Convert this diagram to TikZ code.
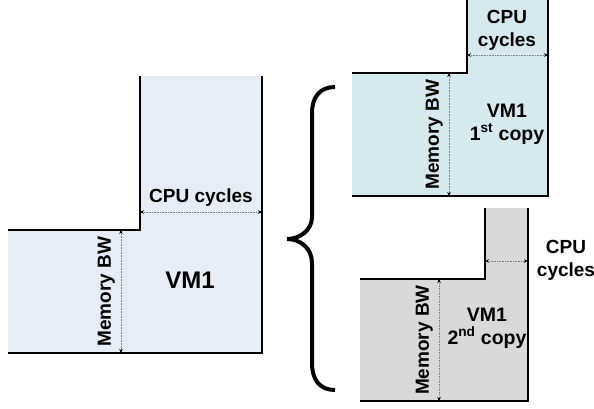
\documentclass[tikz,border=0pt]{standalone}
\usepackage{fontspec}
\setmainfont{Liberation Sans}
\usetikzlibrary{arrows.meta}
\definecolor{vmblue}{HTML}{E7EDF7}
\definecolor{vmcyan}{HTML}{D6E9EF}
\definecolor{vmgray}{HTML}{D9D9D9}
\tikzset{
	wall/.style={line width=2.6pt},
	dimline/.style={densely dotted,gray,line width=0.6pt,{Stealth[color=black,length=4pt,width=3.5pt]}-{Stealth[color=black,length=4pt,width=3.5pt]}},
	lbl/.style={font=\fontsize{19}{23}\selectfont\bfseries,text=black,inner sep=0pt,align=center},
	vmlbl/.style={font=\fontsize{24}{27}\selectfont\bfseries,text=black,inner sep=0pt,align=center},
	copylbl/.style={font=\fontsize{19.5}{23}\selectfont\bfseries,text=black,inner sep=0pt,align=center}
}
\begin{document}
\begin{tikzpicture}[x=1pt,y=-1pt]
	\useasboundingbox (0,0) rectangle (594,408);
	% original VM
	\fill[vmblue] (8,230) -- (140,230) -- (140,76) -- (262,76) -- (262,353) -- (8,353) -- cycle;
	\draw[wall] (140,76) -- (140,230) -- (8,230);
	\draw[wall] (262,76) -- (262,353) -- (8,353);
	\coordinate (cpuA) at (140,212);
	\coordinate (cpuB) at (262,212);
	\coordinate (memA) at (121,230);
	\coordinate (memB) at (121,353);
	\draw[dimline] (cpuA) -- node[lbl,above=5pt] {CPU cycles} (cpuB);
	\draw[dimline] (memA) -- node[lbl,rotate=90,above=6pt] {Memory BW} (memB);
	\node[vmlbl] (vm) at (190,280) {VM1};
	% brace
	\draw[line width=4pt] (335,87) .. controls (320,87) and (312,97) .. (312,113) -- (312,217)
		.. controls (312,230) and (300,239) .. (287,239) .. controls (300,239) and (312,248) .. (312,263)
		-- (312,363) .. controls (312,380) and (320,390) .. (335,390);
	% 1st copy
	\fill[vmcyan] (352,73) -- (467,73) -- (467,0) -- (548,0) -- (548,196) -- (352,196) -- cycle;
	\draw[wall] (467,0) -- (467,73) -- (352,73);
	\draw[wall] (548,0) -- (548,196) -- (352,196);
	\coordinate (cpuC) at (467,55);
	\coordinate (cpuD) at (548,55);
	\coordinate (memC) at (449,73);
	\coordinate (memD) at (449,196);
	\draw[dimline] (cpuC) -- (cpuD);
	\node[lbl] (cpu1) at (507,30) {CPU\\cycles};
	\draw[dimline] (memC) -- node[lbl,rotate=90,above=6pt] {Memory BW} (memD);
	\node[copylbl] (vm1) at (507,124) {VM1\\1\textsuperscript{st} copy};
	% 2nd copy
	\fill[vmgray] (360,279) -- (485,279) -- (485,208) -- (528,208) -- (528,401) -- (360,401) -- cycle;
	\draw[wall] (485,208) -- (485,279) -- (360,279);
	\draw[wall] (528,208) -- (528,401) -- (360,401);
	\coordinate (cpuE) at (485,261);
	\coordinate (cpuF) at (528,261);
	\coordinate (memE) at (439,279);
	\coordinate (memF) at (439,401);
	\draw[dimline] (cpuE) -- (cpuF);
	\node[lbl] (cpu2) at (566,260) {CPU\\cycles};
	\draw[dimline] (memE) -- node[lbl,rotate=90,above=6pt] {Memory BW} (memF);
	\node[copylbl] (vm2) at (487,328) {VM1\\2\textsuperscript{nd} copy};
\end{tikzpicture}
\end{document}
